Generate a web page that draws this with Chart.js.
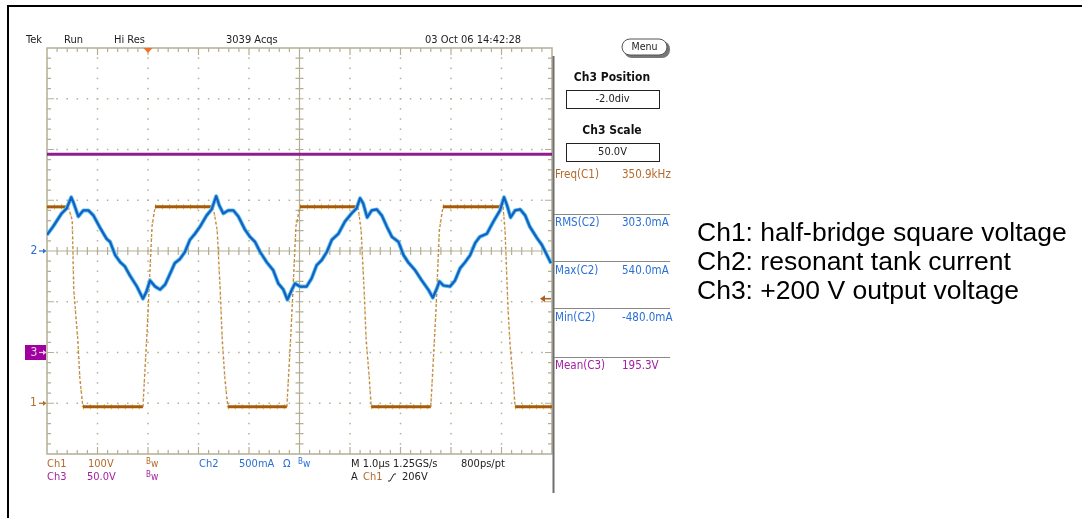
<!DOCTYPE html>
<html lang="en">
<head>
<meta charset="UTF-8">
<title>Tek scope capture</title>
<script src="https://cdn.jsdelivr.net/npm/chart.js"></script>
<style>
  html, body { margin: 0; padding: 0; background: #fff; }
  canvas { display: block; }
</style>
</head>
<body>
<canvas id="scope" width="1082" height="518"></canvas>
<script>
// time in microseconds (1 us/div, 10 divisions on screen)
const ch1Time = [0, 0.42, 0.50, 0.53, 0.61, 0.65, 0.71, 1.90, 1.98, 2.08, 2.14, 3.29, 3.37, 3.43, 3.47, 3.52, 3.58,
  4.75, 4.83, 4.93, 5.01, 6.16, 6.22, 6.28, 6.32, 6.38, 6.42, 7.60, 7.70, 7.77, 7.84, 9.03, 9.07, 9.13, 9.17, 9.23, 9.27, 10];
const ch1Volts = [387, 387, 361, 223, 125, 50, -7, -7, 138, 349, 387, 387, 341, 223, 125, 52, -7,
  -7, 138, 349, 387, 387, 341, 223, 125, 52, -7, -7, 178, 341, 387, 387, 341, 184, 115, 46, -7, -7];

const ch2Time = [0, 0.12, 0.29, 0.39, 0.48, 0.53, 0.62, 0.72, 0.82, 0.92,
  1.05, 1.18, 1.25, 1.35, 1.45, 1.54, 1.64, 1.78, 1.90, 1.97,
  2.04, 2.14, 2.24, 2.34, 2.44, 2.53, 2.63, 2.73, 2.83, 2.93,
  3.03, 3.16, 3.26, 3.35, 3.41, 3.49, 3.59, 3.69, 3.79, 3.92,
  4.02, 4.12, 4.22, 4.35, 4.48, 4.58, 4.68, 4.76, 4.85, 4.91,
  5.01, 5.14, 5.24, 5.34, 5.44, 5.54, 5.64, 5.77, 5.90, 6.03,
  6.13, 6.20, 6.26, 6.34, 6.43, 6.53, 6.63, 6.73, 6.83, 6.96,
  7.06, 7.15, 7.29, 7.42, 7.55, 7.64, 7.72, 7.77, 7.85, 7.98,
  8.08, 8.18, 8.28, 8.38, 8.48, 8.57, 8.71, 8.84, 8.97, 9.05,
  9.11, 9.18, 9.27, 9.37, 9.47, 9.56, 9.70, 9.80, 9.90, 9.98];
const ch2Milliamps = [160, 240, 370, 420, 530, 470, 340, 400, 400, 350,
  230, 120, 90, -40, -110, -150, -240, -350, -470, -400,
  -290, -350, -380, -330, -220, -120, -80, -10, 110, 170,
  240, 350, 410, 540, 450, 370, 400, 400, 340, 210,
  140, 90, -10, -110, -190, -320, -380, -480, -380, -320,
  -350, -350, -270, -140, -90, -10, 110, 170, 290, 370,
  420, 520, 470, 330, 400, 410, 350, 240, 140, 90,
  -40, -110, -190, -290, -380, -460, -370, -300, -340, -350,
  -290, -170, -110, -40, 80, 140, 170, 290, 400, 530,
  450, 330, 400, 410, 350, 240, 130, 60, -40, -120];

const ch3Time = [0, 10];
const ch3Volts = [195.3, 195.3];

// channel settings: units per division and ground position (divisions from centre)
const ch1PerDiv = 100, ch1Ground = -3;
const ch2PerDiv = 500, ch2Ground = 0;
const ch3PerDiv = 50, ch3Ground = -2;
const triggerTime = 2.0, triggerLevel = 206;

const measNames = ['Freq(C1)', 'RMS(C2)', 'Max(C2)', 'Min(C2)', 'Mean(C3)'];
const measValues = ['350.9kHz', '303.0mA', '540.0mA', '-480.0mA', '195.3V'];
const notes = ['Ch1: half-bridge square voltage', 'Ch2: resonant tank current', 'Ch3: +200 V output voltage'];

const C1 = '#b36a2a', C2 = '#2a6fd6', C3 = '#a21fa2';
const gridColor = '#b4ae96';
const scopeFont = "'Liberation Sans Narrow', 'DejaVu Sans Condensed', sans-serif";

function toPoints(ts, vals, perDiv, ground) {
  return ts.map((t, i) => ({ x: t, y: ground + vals[i] / perDiv }));
}
const isEdge = c => Math.abs(c.p0.parsed.y - c.p1.parsed.y) > 0.05;

function txt(ctx, s, x, y, color, size, align, weight) {
  ctx.font = (weight || '') + ' ' + size + 'px ' + scopeFont;
  ctx.fillStyle = color;
  ctx.textAlign = align || 'left';
  ctx.textBaseline = 'middle';
  ctx.fillText(s, x, y);
}
function bw(ctx, x, y, color) {
  txt(ctx, 'B', x, y - 2, color, 8);
  txt(ctx, 'w', x + 5, y, color, 10);
}

const scopeFace = {
  id: 'scopeFace',
  beforeDraw(chart) {
    const ctx = chart.ctx;
    ctx.save();
    ctx.fillStyle = '#fff';
    ctx.fillRect(0, 0, chart.width, chart.height);
    ctx.strokeStyle = '#000';
    ctx.lineWidth = 2;
    ctx.beginPath();
    ctx.moveTo(8, chart.height);
    ctx.lineTo(8, 6);
    ctx.lineTo(chart.width, 6);
    ctx.stroke();
    ctx.restore();
  },
  beforeDatasetsDraw(chart) {
    const ctx = chart.ctx, xs = chart.scales.x, ys = chart.scales.y;
    const { left, right, top, bottom } = chart.chartArea;
    ctx.save();
    ctx.fillStyle = gridColor;
    // dotted division lines
    for (let i = 1; i < 10; i++) {
      if (i === 5) continue;
      const px = xs.getPixelForValue(i);
      for (let j = 1; j < 40; j++) {
        const py = ys.getPixelForValue(-4 + j * 0.2);
        ctx.fillRect(px - 0.75, py - 0.75, 1.5, 1.5);
      }
    }
    for (let j = -3; j <= 3; j++) {
      if (j === 0) continue;
      const py = ys.getPixelForValue(j);
      for (let i = 1; i < 50; i++) {
        const px = xs.getPixelForValue(i * 0.2);
        ctx.fillRect(px - 0.75, py - 0.75, 1.5, 1.5);
      }
    }
    ctx.strokeStyle = gridColor;
    ctx.lineWidth = 1.5;
    ctx.strokeRect(left, top, right - left, bottom - top);
    const cx = xs.getPixelForValue(5), cy = ys.getPixelForValue(0);
    ctx.lineWidth = 1.2;
    ctx.beginPath();
    ctx.moveTo(cx, top); ctx.lineTo(cx, bottom);
    ctx.moveTo(left, cy); ctx.lineTo(right, cy);
    // ticks on centre cross and border
    for (let i = 1; i < 50; i++) {
      const px = xs.getPixelForValue(i * 0.2);
      const major = i % 5 === 0;
      ctx.moveTo(px, cy - 4); ctx.lineTo(px, cy + 4);
      ctx.moveTo(px, top); ctx.lineTo(px, top + (major ? 7 : 4));
      ctx.moveTo(px, bottom); ctx.lineTo(px, bottom - (major ? 7 : 4));
    }
    for (let j = 1; j < 40; j++) {
      const py = ys.getPixelForValue(-4 + j * 0.2);
      const major = j % 5 === 0;
      ctx.moveTo(cx - 4, py); ctx.lineTo(cx + 4, py);
      ctx.moveTo(left, py); ctx.lineTo(left + (major ? 7 : 4), py);
      ctx.moveTo(right, py); ctx.lineTo(right - (major ? 7 : 4), py);
    }
    ctx.stroke();
    ctx.restore();
  },
  afterDatasetsDraw(chart) {
    const ctx = chart.ctx, xs = chart.scales.x, ys = chart.scales.y;
    const { left, right, top, bottom } = chart.chartArea;
    ctx.save();

    // panel divider
    ctx.strokeStyle = '#6e6e6e';
    ctx.lineWidth = 2;
    ctx.beginPath();
    ctx.moveTo(right + 1.5, top + 8); ctx.lineTo(right + 1.5, 493);
    ctx.stroke();

    // trigger position marker
    const tx = xs.getPixelForValue(triggerTime);
    ctx.fillStyle = '#f07028';
    ctx.beginPath();
    ctx.moveTo(tx - 4.5, top); ctx.lineTo(tx + 4.5, top); ctx.lineTo(tx, top + 5);
    ctx.closePath(); ctx.fill();

    // trigger level arrow
    const ty = ys.getPixelForValue(ch1Ground + triggerLevel / ch1PerDiv);
    ctx.strokeStyle = '#b0601c'; ctx.fillStyle = '#b0601c'; ctx.lineWidth = 1.5;
    ctx.beginPath(); ctx.moveTo(right - 1, ty); ctx.lineTo(right - 9, ty); ctx.stroke();
    ctx.beginPath(); ctx.moveTo(right - 12, ty); ctx.lineTo(right - 7, ty - 3.5); ctx.lineTo(right - 7, ty + 3.5);
    ctx.closePath(); ctx.fill();

    // ground markers
    function groundArrow(y, color) {
      ctx.strokeStyle = color; ctx.fillStyle = color; ctx.lineWidth = 1.2;
      ctx.beginPath(); ctx.moveTo(39, y); ctx.lineTo(44, y); ctx.stroke();
      ctx.beginPath(); ctx.moveTo(46.5, y); ctx.lineTo(43, y - 2.5); ctx.lineTo(43, y + 2.5); ctx.closePath(); ctx.fill();
    }
    const g1 = ys.getPixelForValue(ch1Ground), g2 = ys.getPixelForValue(ch2Ground), g3 = ys.getPixelForValue(ch3Ground);
    txt(ctx, '2', 34, g2, C2, 12, 'center');
    groundArrow(g2, C2);
    txt(ctx, '1', 33.5, g1, C1, 12, 'center');
    groundArrow(g1, C1);
    ctx.fillStyle = '#a000a0';
    ctx.fillRect(25, g3 - 7.5, 21, 15);
    txt(ctx, '3', 34, g3, '#f0d0f0', 12, 'center');
    groundArrow(g3, '#f0d0f0');

    // header
    txt(ctx, 'Tek', 26, 40, '#222', 11);
    txt(ctx, 'Run', 64, 40, '#222', 11);
    txt(ctx, 'Hi Res', 114, 40, '#222', 11);
    txt(ctx, '3039 Acqs', 226, 40, '#222', 11);
    txt(ctx, '03 Oct 06 14:42:28', 425, 40, '#222', 11);

    // channel settings rows
    txt(ctx, 'Ch1', 47, 464, C1, 11);
    txt(ctx, '100V', 88, 464, C1, 11);
    bw(ctx, 146, 464, C1);
    txt(ctx, 'Ch2', 199, 464, C2, 11);
    txt(ctx, '500mA', 239, 464, C2, 11);
    txt(ctx, '\u03A9', 283, 464, C2, 11);
    bw(ctx, 298, 464, C2);
    txt(ctx, 'M 1.0\u00B5s 1.25GS/s', 351, 464, '#222', 11);
    txt(ctx, '800ps/pt', 461, 464, '#222', 11);
    txt(ctx, 'Ch3', 47, 477, C3, 11);
    txt(ctx, '50.0V', 87, 477, C3, 11);
    bw(ctx, 146, 477, C3);
    txt(ctx, 'A', 351, 477, '#222', 11);
    txt(ctx, 'Ch1', 363, 477, C1, 11);
    ctx.strokeStyle = '#222'; ctx.lineWidth = 1;
    ctx.beginPath(); ctx.moveTo(388, 481); ctx.lineTo(390, 481); ctx.lineTo(394, 474); ctx.lineTo(396, 474); ctx.stroke();
    txt(ctx, '206V', 402, 477, '#222', 11);

    // right menu panel
    ctx.fillStyle = '#777';
    ctx.beginPath(); ctx.roundRect(624, 41, 46, 17, 8); ctx.fill();
    ctx.fillStyle = '#fff'; ctx.strokeStyle = '#555'; ctx.lineWidth = 1;
    ctx.beginPath(); ctx.roundRect(622, 39, 45, 16, 8); ctx.fill(); ctx.stroke();
    txt(ctx, 'Menu', 644.5, 47.5, '#222', 10.5, 'center');

    txt(ctx, 'Ch3 Position', 612, 78, '#111', 12, 'center', 'bold');
    ctx.strokeStyle = '#222'; ctx.lineWidth = 1;
    ctx.strokeRect(566.5, 90.5, 93, 18);
    txt(ctx, '-2.0div', 612.5, 99.5, '#222', 11, 'center');
    txt(ctx, 'Ch3 Scale', 612, 131, '#111', 12, 'center', 'bold');
    ctx.strokeRect(566.5, 143.5, 93, 18);
    txt(ctx, '50.0V', 612.5, 152.5, '#222', 11, 'center');

    const measY = [175, 223, 271, 318, 366];
    const measColor = [C1, C2, C2, C2, C3];
    ctx.strokeStyle = '#888'; ctx.lineWidth = 1;
    ctx.beginPath();
    [214, 261, 308, 357].forEach(y => { ctx.moveTo(554, y + 0.5); ctx.lineTo(670, y + 0.5); });
    ctx.stroke();
    measNames.forEach((n, i) => {
      txt(ctx, n, 555, measY[i], measColor[i], 11.5);
      txt(ctx, measValues[i], 622, measY[i], measColor[i], 11.5);
    });

    // annotation text
    ctx.font = "26.5px 'Liberation Sans', Arial, sans-serif";
    ctx.fillStyle = '#000';
    ctx.textAlign = 'left';
    ctx.textBaseline = 'alphabetic';
    [241, 270, 299].forEach((y, i) => ctx.fillText(notes[i], 697, y));

    ctx.restore();
  }
};

const ch1Points = toPoints(ch1Time, ch1Volts, ch1PerDiv, ch1Ground);
const ch2Points = toPoints(ch2Time, ch2Milliamps, ch2PerDiv, ch2Ground);
const ch3Points = toPoints(ch3Time, ch3Volts, ch3PerDiv, ch3Ground);

new Chart(document.getElementById('scope'), {
  type: 'line',
  data: {
    datasets: [
      { label: 'Ch2', data: ch2Points, borderColor: '#1a5cc4', borderWidth: 2.2, order: 0 },
      { label: 'Ch2 glow', data: ch2Points, borderColor: '#55c8e8', borderWidth: 4, order: 1 },
      {
        label: 'Ch1', data: ch1Points, order: 2, borderColor: '#a65a0e', borderWidth: 3,
        segment: {
          borderColor: c => isEdge(c) ? '#c08a58' : '#a65a0e',
          borderWidth: c => isEdge(c) ? 1.3 : 3,
          borderDash: c => isEdge(c) ? [3, 2] : undefined
        }
      },
      {
        label: 'Ch1 noise', data: ch1Points, order: 3, borderColor: '#e2d03a', borderWidth: 5.5, borderDash: [1, 6],
        segment: {
          borderWidth: c => isEdge(c) ? 2.2 : 5.5,
          borderDash: c => isEdge(c) ? [1, 7] : [1, 6]
        }
      },
      { label: 'Ch3', data: ch3Points, borderColor: '#8e1e8e', borderWidth: 3, order: 4 }
    ]
  },
  options: {
    responsive: false,
    animation: false,
    events: [],
    devicePixelRatio: 1,
    layout: { padding: { left: 47, top: 48, right: 530, bottom: 64 } },
    elements: { point: { radius: 0 }, line: { tension: 0, borderJoinStyle: 'round' } },
    plugins: { legend: { display: false }, tooltip: { enabled: false } },
    scales: {
      x: { type: 'linear', min: 0, max: 10, display: false },
      y: { type: 'linear', min: -4, max: 4, display: false }
    }
  },
  plugins: [scopeFace]
});
</script>
</body>
</html>
